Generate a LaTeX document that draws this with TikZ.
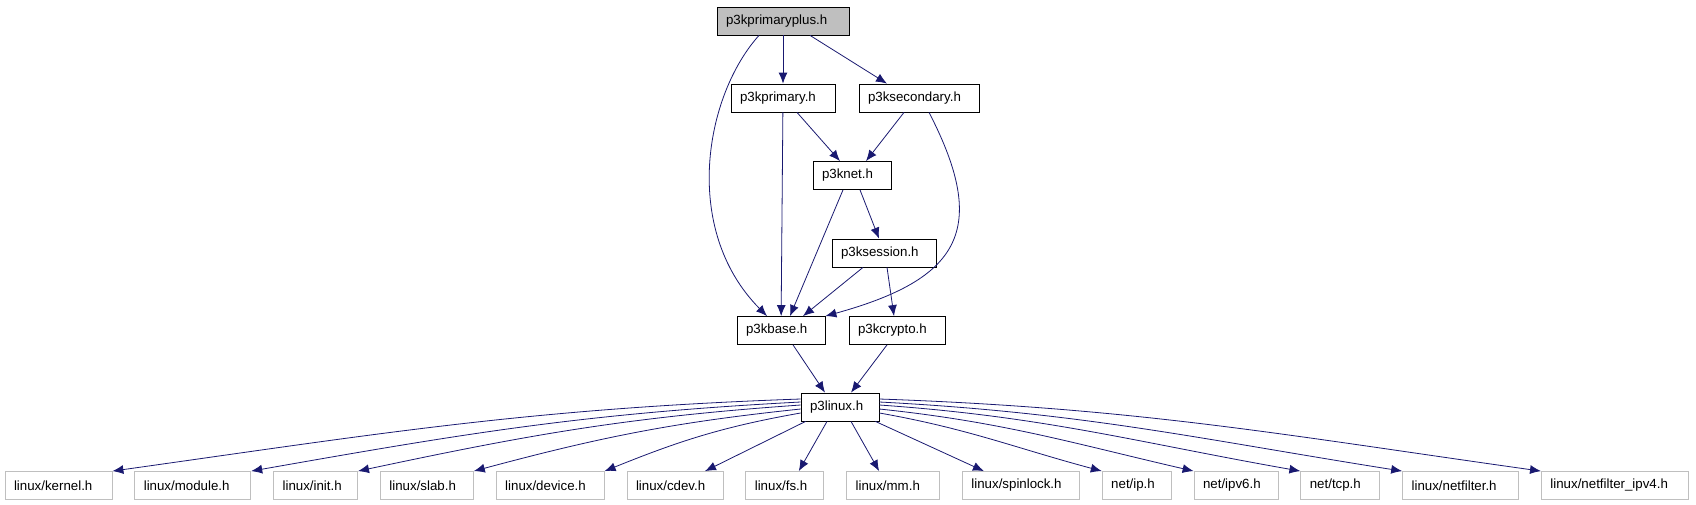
\documentclass[tikz,border=0pt]{standalone}
\usepackage{fontspec}
\setmainfont{Liberation Sans}
\usepackage{tikz}
\usetikzlibrary{arrows.meta,positioning}
\definecolor{Edge}{HTML}{191970}
\definecolor{Leaf}{HTML}{BFBFBF}
\definecolor{Root}{HTML}{BFBFBF}
\tikzset{
  every node/.append style={text=black},
  box/.style={draw=black, line width=0.8pt, fill=white, align=left,
              minimum height=28pt, inner xsep=9pt, inner ysep=0pt,
              text width=60pt, font=\fontsize{13.3pt}{16pt}\selectfont},
  root/.style={box, fill=Root},
  leaf/.style={box, draw=Leaf},
  arrow/.style={-{Latex[length=11pt,width=9pt]}, line width=0.8pt, draw=Edge},
}
\begin{document}
\begin{tikzpicture}[x=1pt, y=-1pt, node distance=22pt]
  \useasboundingbox (0,0) rectangle (1696,504);
  % project headers
  \node[root, text width=114pt] (pplus) at (783,21) {p3kprimaryplus.h};
  \node[box, text width=86pt] (prim) at (783,98) {p3kprimary.h};
  \node[box, text width=102pt] (sec) at (919,98) {p3ksecondary.h};
  \node[box, text width=60pt] (net) at (852,175.5) {p3knet.h};
  \node[box, text width=86pt] (sess) at (884,253) {p3ksession.h};
  \node[box, text width=70pt] (base) at (781,330.5) {p3kbase.h};
  \node[box, text width=78pt] (crypto) at (897,330.5) {p3kcrypto.h};
  \node[box, text width=60pt] (linux) at (840,407) {p3linux.h};
  % system headers
  \node[leaf, text width=89pt] (kernel) at (58.5,485.5) {linux/kernel.h};
  \node[leaf, right=of kernel, text width=98pt] (module) {linux/module.h};
  \node[leaf, right=of module, text width=66pt] (init) {linux/init.h};
  \node[leaf, right=of init, text width=75pt] (slab) {linux/slab.h};
  \node[leaf, right=of slab, text width=90pt] (device) {linux/device.h};
  \node[leaf, right=of device, text width=78pt] (cdev) {linux/cdev.h};
  \node[leaf, right=of cdev, text width=60pt] (fs) {linux/fs.h};
  \node[leaf, right=of fs, text width=75pt] (mm) {linux/mm.h};
  \node[leaf, right=of mm, text width=99pt] (spinlock) {linux/spinlock.h};
  \node[leaf, right=of spinlock, text width=51pt] (ip) {net/ip.h};
  \node[leaf, right=of ip, text width=66pt] (ipv6) {net/ipv6.h};
  \node[leaf, right=of ipv6, text width=61pt] (tcp) {net/tcp.h};
  \node[leaf, right=of tcp, text width=98pt] (netfilter) {linux/netfilter.h};
  \node[leaf, right=of netfilter, text width=129pt] (nfipv4) {linux/netfilter\_ipv4.h};
  % includes
  \draw[arrow] (pplus)--(prim);
  \draw[arrow] ([xshift=27pt]pplus.south)--([xshift=-32pt]sec.north);
  \draw[arrow] ([xshift=-24pt]pplus.south) .. controls +(-54,60) and +(-86,-87) .. ([xshift=-14pt]base.north);
  \draw[arrow] (prim)--(base);
  \draw[arrow] ([xshift=14pt]prim.south)--([xshift=-12pt]net.north);
  \draw[arrow] ([xshift=-15pt]sec.south)--([xshift=14pt]net.north);
  \draw[arrow] ([xshift=10pt]sec.south) .. controls +(61,118) and +(134,-37) .. (base.north east);
  \draw[arrow] ([xshift=8pt]net.south)--([xshift=-5pt]sess.north);
  \draw[arrow] ([xshift=-9pt]net.south)--([xshift=9pt]base.north);
  \draw[arrow] ([xshift=-21pt]sess.south)--([xshift=22pt]base.north);
  \draw[arrow] ([xshift=3pt]sess.south)--([xshift=-3pt]crypto.north);
  \draw[arrow] ([xshift=12pt]base.south)--([xshift=-15pt]linux.north);
  \draw[arrow] ([xshift=-10pt]crypto.south)--([xshift=11pt]linux.north);
  % p3linux.h fan
  \draw[arrow] ([yshift=8pt]linux.west) to[out=182, in=8] (kernel.north east);
  \draw[arrow] ([yshift=5pt]linux.west) to[out=183, in=10] (module.north east);
  \draw[arrow] ([yshift=2pt]linux.west) to[out=184, in=12] (init.north east);
  \draw[arrow] ([yshift=-2pt]linux.west) to[out=186, in=15] (slab.north east);
  \draw[arrow] ([yshift=-6pt]linux.west) to[out=190, in=22] (device.north east);
  \draw[arrow] ([xshift=5pt]linux.south west)--([xshift=30pt]cdev.north);
  \draw[arrow] ([xshift=-13pt]linux.south)--([xshift=14pt]fs.north);
  \draw[arrow] ([xshift=11pt]linux.south)--([xshift=-14pt]mm.north);
  \draw[arrow] ([xshift=-4pt]linux.south east)--([xshift=-37pt]spinlock.north);
  \draw[arrow] ([yshift=-6pt]linux.east) to[out=-10, in=165] (ip.north west);
  \draw[arrow] ([yshift=-2pt]linux.east) to[out=-6, in=167] (ipv6.north west);
  \draw[arrow] ([yshift=2pt]linux.east) to[out=-4, in=170] (tcp.north west);
  \draw[arrow] ([yshift=5pt]linux.east) to[out=-3, in=171] (netfilter.north west);
  \draw[arrow] ([yshift=8pt]linux.east) to[out=-2, in=172] (nfipv4.north west);
\end{tikzpicture}
\end{document}
